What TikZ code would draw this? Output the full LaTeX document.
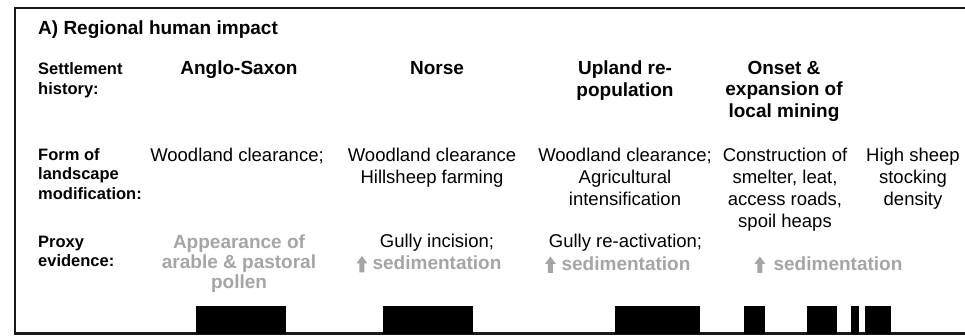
\documentclass[tikz,border=0pt]{standalone}
\usepackage{fontspec}
\setmainfont{Liberation Sans}
\definecolor{proxygray}{RGB}{165,165,165}
\tikzset{
  ttl/.style={font=\bfseries\fontsize{19}{22}\selectfont, inner sep=0pt, anchor=base west},
  rowlab/.style={font=\bfseries\fontsize{16.5}{19.5}\selectfont, inner sep=0pt, anchor=north west, align=left},
  hd/.style={font=\bfseries\fontsize{19}{21.5}\selectfont, inner sep=0pt, align=center},
  bd/.style={font=\fontsize{18.5}{21.8}\selectfont, inner sep=0pt, align=center},
  px/.style={font=\bfseries\fontsize{19}{20.3}\selectfont, text=proxygray, inner sep=0pt, align=center},
  barbox/.style={fill=black, draw=none},
  framebox/.style={line width=2.7pt, draw=black!90},
  uparr/.pic={\fill[proxygray] (-2.5,3) -- (-2.5,-6) -- (-5.5,-6) -- (0,-13.5) -- (5.5,-6) -- (2.5,-6) -- (2.5,3) -- cycle;}
}
\begin{document}
\begin{tikzpicture}[x=1pt,y=-1pt]
\useasboundingbox (0,0) rectangle (965,336);
% frame
\draw[framebox] (965,8) -- (15,8) -- (15,333.5) -- (965,333.5);
% title
\node[ttl] (title) at (38,35) {A) Regional human impact};
% row labels
\node[rowlab] (lab1) at (38,62.6) {Settlement\\history:};
\node[rowlab] (lab2) at (38,148.1) {Form of\\landscape\\modification:};
\node[rowlab] (lab3) at (38,235.6) {Proxy\\evidence:};
% settlement history
\node[hd, anchor=base] (h1) at (239,75) {Anglo-Saxon};
\node[hd, anchor=base] (h2) at (437,75) {Norse};
\node[hd, anchor=north] (h3) at (625,60.8) {Upland re-\\population};
\node[hd, anchor=north] (h4) at (784,60.8) {Onset \&\\expansion of\\local mining};
% landscape modification
\node[bd, anchor=base] (m1) at (237,161.5) {Woodland clearance;};
\node[bd, anchor=north] (m2) at (432,148.2) {Woodland clearance\\Hillsheep farming};
\node[bd, anchor=north] (m3) at (625,148.2) {Woodland clearance;\\Agricultural\\intensification};
\node[bd, anchor=north] (m4) at (785,148.2) {Construction of\\smelter, leat,\\access roads,\\spoil heaps};
\node[bd, anchor=north] (m5) at (913,148.2) {High sheep\\stocking\\density};
% proxy evidence
\node[px, anchor=north] (p1) at (239,234.3) {Appearance of\\arable \& pastoral\\pollen};
\node[bd, anchor=base] (p2a) at (437,247.5) {Gully incision;};
\node[px, anchor=base] (p2b) at (437,269.5) {sedimentation};
\node[bd, anchor=base] (p3a) at (625.5,247.5) {Gully re-activation;};
\node[px, anchor=base] (p3b) at (626,270) {sedimentation};
\node[px, anchor=base] (p4b) at (838,270) {sedimentation};
\path (p2b.base west) ++(-10.5,0) pic {uparr};
\path (p3b.base west) ++(-11,0) pic {uparr};
\path (p4b.base west) ++(-13.5,0) pic {uparr};
% bars
\fill[barbox] (196,306) rectangle (286,333.5);
\fill[barbox] (383,306) rectangle (473,333.5);
\fill[barbox] (615,306) rectangle (700,333.5);
\fill[barbox] (744,306) rectangle (765,333.5);
\fill[barbox] (807,306) rectangle (837,333.5);
\fill[barbox] (851,306) rectangle (859,333.5);
\fill[barbox] (865,306) rectangle (891,333.5);
\end{tikzpicture}
\end{document}
